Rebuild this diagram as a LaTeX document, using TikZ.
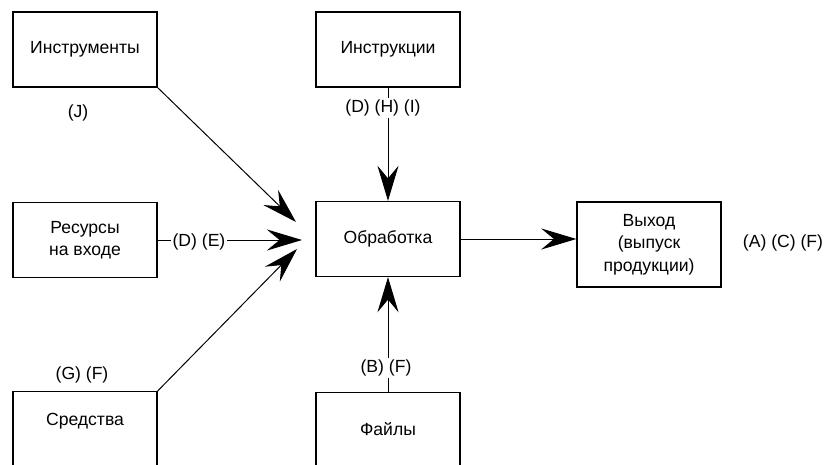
\documentclass[tikz,border=0pt]{standalone}
\usepackage{fontspec}
\setmainfont{Liberation Sans}
\usetikzlibrary{arrows.meta}

\begin{document}
\begin{tikzpicture}[x=0.025cm, y=-0.025cm,
  font=\fontsize{12.5}{16}\selectfont,
  box/.style={draw, line width=0.9pt, minimum width=3.6cm, minimum height=1.875cm, align=center, inner sep=2pt},
  flow/.style={line width=0.7pt, -{Stealth[length=25pt, width=15pt, inset=9pt]}},
  tag/.style={fill=white, inner sep=1pt}]
  \useasboundingbox (0,0) rectangle (827,465);
  \node [box] (tools) at (85,49.5) {Инструменты};
  \node [box] (instr) at (388,49.5) {Инструкции};
  \node [box] (res) at (85,240) {Ресурсы\\на входе};
  \node [box] (proc) at (388,239) {Обработка};
  \node [box, minimum height=2.125cm] (out) at (649,244.5) {Выход\\(выпуск\\продукции)};
  \node [box, anchor=north, minimum height=3cm] (means) at (85,391) {};
  \node (meanstxt) at (85,421) {Средства};
  \node [box, anchor=north, minimum height=3cm] (files) at (388,392) {};
  \node (filestxt) at (388,429) {Файлы};
  \coordinate (tipa) at (296,222);
  \coordinate (tipb) at (302,240);
  \coordinate (tipc) at (297,249);
  \draw [flow] (tools.south east) -- (tipa);
  \draw [flow] (res.east) -- (tipb);
  \draw [flow] (means.north east) -- (tipc);
  \draw [flow] (instr.south) -- (proc.north);
  \draw [flow] (files.north) -- (proc.south);
  \draw [flow] (proc.east) -- (proc.east -| out.west);
  \node [tag] (lj) at (78,113) {(J)};
  \node [tag] (ldhi) at (383,108) {(D) (H) (I)};
  \node [tag] (lde) at (199,242) {(D) (E)};
  \node [tag] (lgf) at (82,375) {(G) (F)};
  \node [tag] (lbf) at (386,368) {(B) (F)};
  \node [tag] (lacf) at (783,243) {(A) (C) (F)};
\end{tikzpicture}
\end{document}
